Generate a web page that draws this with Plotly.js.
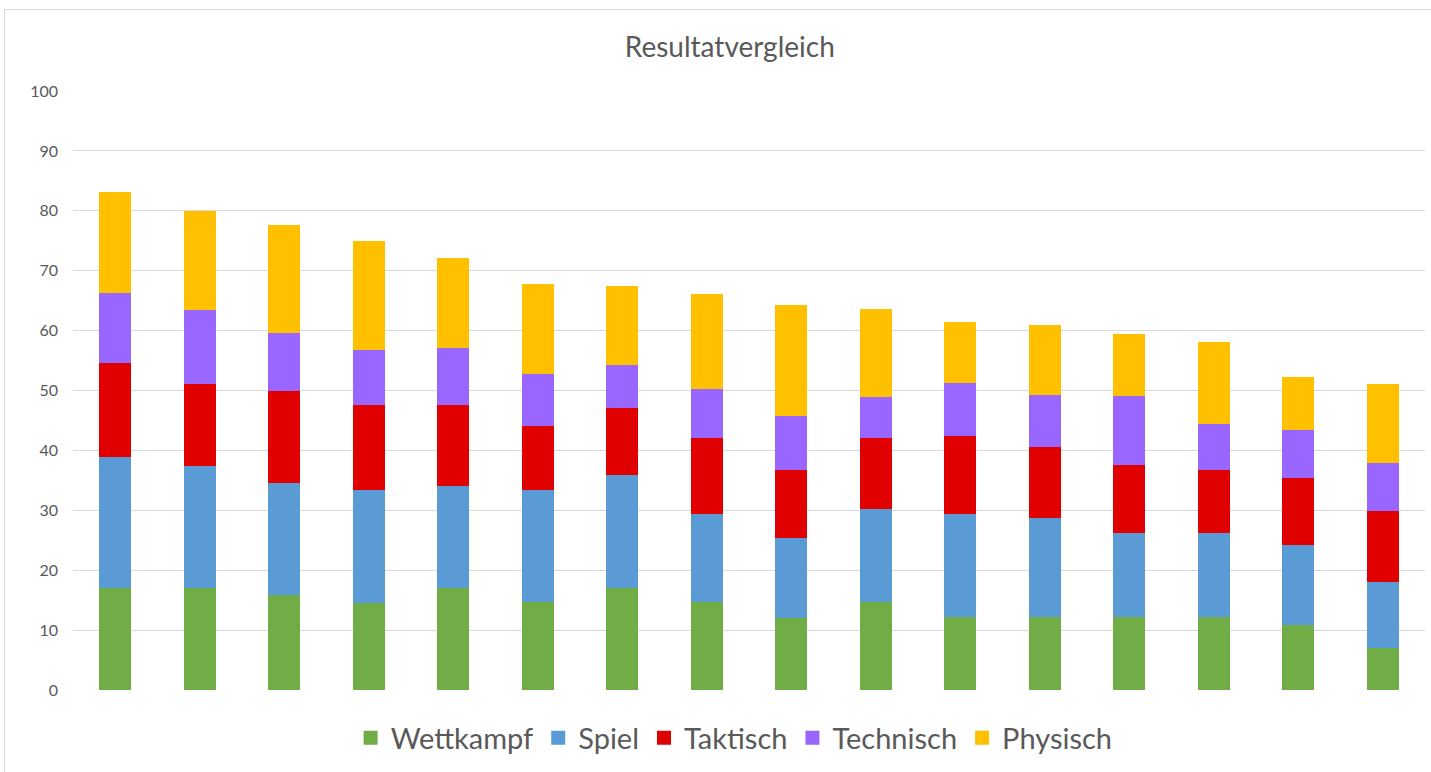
<!DOCTYPE html>
<html>
<head>
<meta charset="utf-8">
<script src="https://cdn.plot.ly/plotly-3.0.1.min.js"></script>
<style>
  html, body { margin: 0; padding: 0; background: #fff; overflow: hidden; }
  #frame { position: absolute; left: 4px; top: 9px; width: 1440px; height: 800px; border: 1px solid #d9d9d9; box-sizing: border-box; }
  #chart { position: absolute; left: 0; top: 0; width: 1431px; height: 772px; }
</style>
</head>
<body>
<div id="frame"></div>
<div id="chart"></div>
<script>
const categories = ["1","2","3","4","5","6","7","8","9","10","11","12","13","14","15","16"];
const wettkampf = [17.2, 17.2, 16.0, 14.7, 17.2, 14.8, 17.2, 14.8, 12.2, 14.8, 12.3, 12.3, 12.3, 12.3, 11.0, 7.2];
const spiel     = [21.9, 20.3, 18.7, 18.8, 17.1, 18.7, 18.8, 14.8, 13.3, 15.6, 17.2, 16.5, 14.0, 14.0, 13.4, 11.0];
const taktisch  = [15.6, 13.8, 15.4, 14.3, 13.4, 10.7, 11.3, 12.6, 11.4, 11.9, 13.1, 11.9, 11.4, 10.6, 11.1, 11.8];
const technisch = [11.7, 12.3, 9.6, 9.2, 9.5, 8.8, 7.1, 8.2, 9.0, 6.7, 8.9, 8.7, 11.5, 7.6, 8.1, 8.1];
const physisch  = [16.6, 16.2, 17.8, 17.8, 14.8, 14.6, 12.9, 15.5, 18.2, 14.4, 9.7, 11.3, 10.1, 13.5, 8.5, 12.9];
const seriesNames = ["Wettkampf", "Spiel", "Taktisch", "Technisch", "Physisch"];
const seriesColors = ["#70AD47", "#5B9BD5", "#E00000", "#9966FF", "#FFC000"];
const yTicks = [0, 10, 20, 30, 40, 50, 60, 70, 80, 90, 100];

const values = [wettkampf, spiel, taktisch, technisch, physisch];
const traces = values.map((v, i) => ({
  type: "bar",
  name: seriesNames[i],
  x: categories,
  y: v,
  marker: { color: seriesColors[i], line: { width: 2, color: seriesColors[i] } },
  hoverinfo: "y+name"
}));

const font = "Lato, 'Open Sans', sans-serif";
const layout = {
  width: 1431, height: 772,
  barmode: "stack",
  bargap: 0.645,
  paper_bgcolor: "rgba(0,0,0,0)",
  plot_bgcolor: "rgba(0,0,0,0)",
  margin: { l: 73, r: 6, t: 91, b: 82 },
  font: { family: font, color: "#595959" },
  title: {
    text: "Resultatvergleich",
    font: { family: font, size: 28, color: "#595959" },
    x: 0.51, xref: "container", xanchor: "center",
    y: 1 - 47 / 772, yref: "container", yanchor: "middle"
  },
  xaxis: {
    showticklabels: false, showgrid: false, zeroline: false,
    showline: false, ticks: "", fixedrange: true
  },
  yaxis: {
    range: [0, 100], tickvals: yTicks, ticktext: yTicks.map(String),
    showgrid: true, gridcolor: "#d9d9d9", gridwidth: 1,
    zeroline: false, showline: false, ticks: "",
    tickfont: { family: font, size: 16, color: "#595959" },
    ticklabelstandoff: 14,
    fixedrange: true
  },
  showlegend: true,
  legend: {
    orientation: "h",
    x: 0.489, xanchor: "center",
    y: -0.08, yanchor: "middle",
    font: { family: font, size: 29, color: "#595959" },
    traceorder: "normal"
  }
};

Plotly.newPlot("chart", traces, layout, { displayModeBar: false, staticPlot: true });
</script>
</body>
</html>
